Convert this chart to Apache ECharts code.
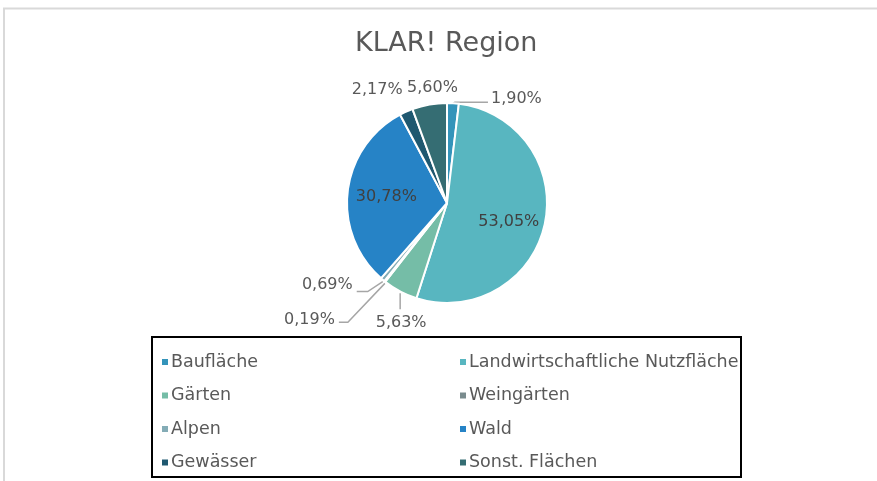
<!DOCTYPE html>
<html>
<head>
<meta charset="utf-8">
<script src="https://cdn.jsdelivr.net/npm/echarts@6/dist/echarts.min.js"></script>
<style>html,body{margin:0;padding:0;background:#fff}#c{width:877px;height:481px}</style>
</head>
<body>
<div id="c"></div>
<script>
const titleText = 'KLAR! Region';
const categories = ['Baufläche', 'Landwirtschaftliche Nutzfläche', 'Gärten', 'Weingärten', 'Alpen', 'Wald', 'Gewässer', 'Sonst. Flächen'];
const values = [1.90, 53.05, 5.63, 0.19, 0.69, 30.78, 2.17, 5.60];
const colors = ['#3494BA', '#58B6C0', '#75BDA7', '#7A8C8E', '#84ACB6', '#2683C6', '#1F5870', '#356D73'];
const leftLegend = ['Baufläche', 'Gärten', 'Alpen', 'Gewässer'];
const rightLegend = ['Landwirtschaftliche Nutzfläche', 'Weingärten', 'Wald', 'Sonst. Flächen'];

const FONT = 'DejaVu Sans';
const txt = '#595959';

// label placement style per slice (offsets relative to the slice edge point the library computes)
const hiddenLine = {show:true, lineStyle:{opacity:0}};
const labelCfg = [
  {label:{position:'outside'}, labelLine:{show:true}},
  {label:{position:'inside', color:'#404040', fontSize:16}},
  {label:{position:'outside'}, labelLine:{show:true}},
  {label:{position:'outside'}, labelLine:{show:true}},
  {label:{position:'outside'}, labelLine:{show:true}},
  {label:{position:'inside', color:'#404040', fontSize:16}},
  {label:{position:'outside'}, labelLine:hiddenLine},
  {label:{position:'outside'}, labelLine:hiddenLine}
];
const layoutCfg = {
  0: {line: [[0,0],[2,-1],[35,-1]], lx: 38, ly: -4, align:'left'},
  1: {dx: 10, dy: 8},
  2: {line: [[0,2],[0,2],[0,18]], lx: 1, ly: 31, align:'center'},
  3: {line: [[0,2],[-37,41],[-46,41]], lx: -50, ly: 38, align:'right'},
  4: {line: [[0,2],[-15,12],[-26,12]], lx: -30, ly: 5, align:'right'},
  5: {dx: -8, dy: 0},
  6: {line: [[0,0],[0,0],[0,0]], lx: -29, ly: -22, align:'center'},
  7: {line: [[0,0],[0,0],[0,0]], lx: 3, ly: -17, align:'center'}
};

const data = categories.map((n, i) => Object.assign({name: n, value: values[i], itemStyle:{color: colors[i]}}, labelCfg[i]));

const chart = echarts.init(document.getElementById('c'), null, {renderer:'canvas'});
const legendCommon = {
  orient: 'vertical', icon: 'rect', itemWidth: 8, itemHeight: 8, itemGap: 15.5,
  textStyle: {color: txt, fontSize: 17.5, fontFamily: FONT, padding:[0,0,0,-3]},
  selectedMode: false
};
chart.setOption({
  animation: false,
  color: colors,
  title: {text: titleText, left: 350, top: 25, textStyle:{color: txt, fontSize: 27, fontWeight:'normal', fontFamily: FONT}},
  legend: [
    Object.assign({}, legendCommon, {data: leftLegend, left: 155, top: 348}),
    Object.assign({}, legendCommon, {data: rightLegend, left: 453, top: 348})
  ],
  graphic: [
    {type:'polyline', shape:{points:[[4,481],[4,8.5],[877,8.5]]}, style:{stroke:'#d9d9d9', lineWidth:2, fill:null}, silent:true},
    {type:'rect', shape:{x:152, y:337, width:589, height:140}, style:{stroke:'#000', lineWidth:2, fill:null}, silent:true}
  ],
  series: [{
    type: 'pie',
    center: [447, 203],
    radius: [0, 100],
    startAngle: 90,
    clockwise: true,
    avoidLabelOverlap: false,
    itemStyle: {borderColor:'#fff', borderWidth:2},
    label: {show:true, color: txt, fontSize: 16, fontFamily: FONT,
      formatter: p => p.value.toFixed(2).replace('.', ',') + '%'},
    labelLine: {length: 10, length2: 10, lineStyle:{color:'#a6a6a6', width:1.5}},
    labelLayout: function (params) {
      const c = layoutCfg[params.dataIndex];
      if (!c) return {};
      if (c.line === undefined) return {dx: c.dx, dy: c.dy};
      const pts = params.labelLinePoints;
      if (!pts) return {};
      const p0 = pts[0];
      return {
        x: p0[0] + c.lx, y: p0[1] + c.ly,
        align: c.align, verticalAlign: 'middle',
        labelLinePoints: c.line.map(d => [p0[0] + d[0], p0[1] + d[1]])
      };
    },
    emphasis: {disabled:true},
    data: data
  }]
});
</script>
</body>
</html>
